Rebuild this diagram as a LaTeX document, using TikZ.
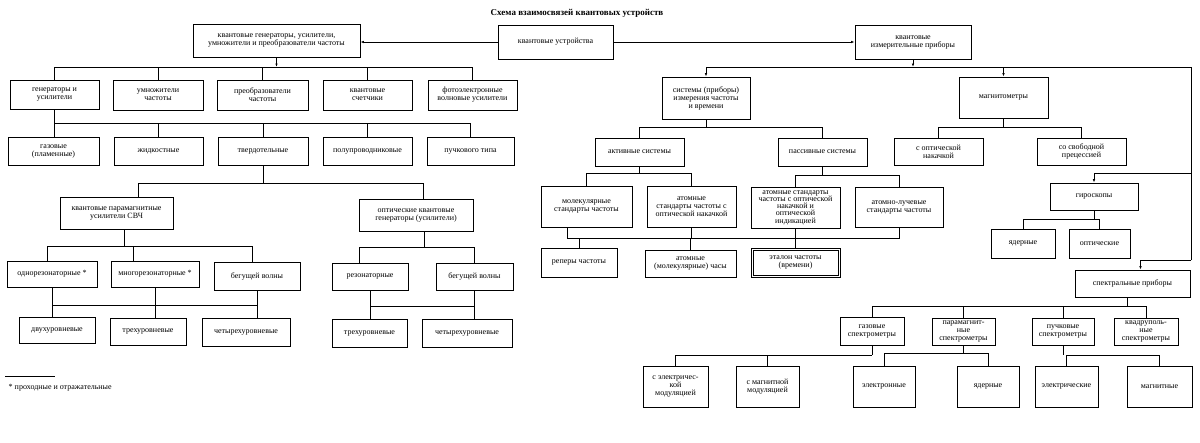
\documentclass[tikz,border=0pt]{standalone}
\usepackage{fontspec}
\setmainfont{Liberation Serif}
\usetikzlibrary{arrows.meta}
\newcommand\bx[7][]{\node[blk,#1,minimum width={(#5-#3)*1pt},minimum height={(#6-#4)*1pt}](#2)at({(#3+#5)/2},{(#4+#6)/2}){#7};}
\begin{document}
\begin{tikzpicture}[x=1pt,y=-1pt,line width=0.8pt,>={Latex[length=3.5pt,width=2.5pt]},
blk/.style={draw,align=center,inner sep=1pt,font=\fontsize{8}{8}\selectfont}]
\useasboundingbox(0,0)rectangle(1200,442);
\node[font=\fontsize{9}{10}\selectfont\bfseries](title)at(577,13){Схема взаимосвязей квантовых устройств};
\bx{qd}{498}{25}{613}{59}{квантовые устройства}
\bx{qgen}{193}{24}{360}{57}{квантовые генераторы, усилители,\\умножители и преобразователи частоты}
\bx{qmeas}{855}{25}{971}{59}{квантовые\\измерительные приборы}
\bx{gu}{10}{80}{99}{109}{генераторы и\\усилители}
\bx{mult}{113}{80}{203}{110}{умножители\\частоты}
\bx{conv}{217}{80}{308}{110}{преобразователи\\частоты}
\bx{cnt}{323}{80}{412}{110}{квантовые\\счетчики}
\bx{fe}{428}{80}{517}{110}{фотоэлектронные\\волновые усилители}
\bx{gas}{8}{137}{99}{165}{газовые\\(пламенные)}
\bx{liq}{114}{137}{203}{165}{жидкостные}
\bx{sol}{218}{137}{308}{165}{твердотельные}
\bx{semi}{323}{137}{412}{165}{полупроводниковые}
\bx{beam}{427}{137}{514}{165}{пучкового типа}
\bx{para}{60}{197}{173}{229}{квантовые парамагнитные\\усилители СВЧ}
\bx{opt}{359}{199}{473}{231}{оптические квантовые\\генераторы (усилители)}
\bx{one}{7}{261}{97}{287}{однорезонаторные *}
\bx{multi}{111}{261}{199}{287}{многорезонаторные *}
\bx{tw1}{214}{262}{300}{290}{бегущей волны}
\bx{res}{332}{263}{408}{290}{резонаторные}
\bx{tw2}{436}{263}{513}{290}{бегущей волны}
\bx{lvlA}{19}{317}{95}{343}{двухуровневые}
\bx{lvlB}{110}{318}{186}{345}{трехуровневые}
\bx{lvlC}{202}{318}{290}{346}{четырехуровневые}
\bx{lvlD}{332}{319}{407}{347}{трехуровневые}
\bx{lvlE}{422}{319}{512}{347}{четырехуровневые}
\bx{sys}{662}{77}{750}{119}{системы (приборы)\\измерения частоты\\и времени}
\bx{mag}{959}{77}{1048}{118}{магнитометры}
\bx{act}{595}{138}{684}{166}{активные системы}
\bx{pas}{778}{138}{867}{166}{пассивные системы}
\bx{optp}{894}{138}{983}{165}{с оптической\\накачкой}
\bx{frp}{1037}{138}{1126}{165}{со свободной\\прецессией}
\bx{mol}{541}{186}{632}{227}{молекулярные\\стандарты частоты}
\bx{aop}{647}{186}{736}{227}{атомные\\стандарты частоты с\\оптической накачкой}
\bx[font=\fontsize{8}{7.3}\selectfont]{aoi}{751}{187}{840}{228}{атомные стандарты\\частоты с оптической\\накачкой и\\оптической\\индикацией}
\bx{alb}{855}{187}{943}{227}{атомно-лучевые\\стандарты частоты}
\bx{rep}{541}{248}{617}{277}{реперы частоты}
\bx{clk}{645}{250}{736}{277}{атомные\\(молекулярные) часы}
\bx{etl}{751}{248}{840}{277}{эталон частоты\\(времени)}
\draw([shift={(2.5pt,-2.5pt)}]etl.north west)rectangle([shift={(-2.5pt,2.5pt)}]etl.south east);
\bx{gyr}{1050}{183}{1138}{210}{гироскопы}
\bx{nuc}{991}{229}{1055}{258}{ядерные}
\bx{opg}{1069}{229}{1130}{258}{оптические}
\bx{spec}{1075}{270}{1190}{297}{спектральные приборы}
\bx{gsp}{840}{317}{904}{345}{газовые\\спектрометры}
\bx{psp}{932}{318}{995}{345}{парамагнит-\\ные\\спектрометры}
\bx{bsp}{1032}{318}{1094}{345}{пучковые\\спектрометры}
\bx{qsp}{1114}{318}{1178}{345}{квадруполь-\\ные\\спектрометры}
\bx{em}{643}{366}{708}{407}{с электричес-\\кой\\модуляцией}
\bx{mm}{736}{366}{799}{407}{с магнитной\\модуляцией}
\bx{el}{853}{366}{915}{407}{электронные}
\bx{nu2}{957}{366}{1019}{407}{ядерные}
\bx{ele}{1035}{366}{1098}{407}{электрические}
\bx{mgn}{1127}{366}{1192}{407}{магнитные}
\draw[->](qd.west)--(qd.west-|qgen.east);
\draw[->](qd.east)--(qd.east-|qmeas.west);
\coordinate(b1)at(0,67);
\draw[->](qgen.south)--(qgen.south|-b1);
\draw(gu.north)|-(fe.north|-b1)--(fe.north);
\foreach \n in {mult,conv,cnt}\draw(\n.north)--(\n.north|-b1);
\coordinate(b2)at(0,123);
\draw(gu.south)--(gu.south|-gas.north);
\draw(gu.south|-b2)-|(beam.north);
\foreach \n in {liq,sol,semi}\draw(\n.north)--(\n.north|-b2);
\coordinate(b3)at(0,183);
\draw(sol.south)--(sol.south|-b3);
\draw([xshift=22pt]para.north)|-([xshift=7pt]opt.north|-b3)--([xshift=7pt]opt.north);
\coordinate(b4)at(0,246);
\draw([xshift=8pt]para.south)--([xshift=8pt]para.south|-b4);
\draw([xshift=-5pt]one.north)|-([xshift=-5pt]tw1.north|-b4)--([xshift=-5pt]tw1.north);
\draw([xshift=-22pt]multi.north)--([xshift=-22pt]multi.north|-b4);
\coordinate(b5)at(0,247);
\draw([xshift=8pt]opt.south)--([xshift=8pt]opt.south|-b5);
\draw([xshift=-11pt]res.north)|-(tw2.north|-b5)--(tw2.north);
\coordinate(b6)at(0,305);
\foreach \n/\m in {one/lvlA,multi/lvlB,tw1/lvlC}\draw(\n.south)--(\n.south|-\m.north);
\draw(one.south|-b6)--(tw1.south|-b6);
\coordinate(b7)at(0,306);
\foreach \n/\m in {res/lvlD,tw2/lvlE}\draw(\n.south)--(\n.south|-\m.north);
\draw(res.south|-b7)--(tw2.south|-b7);
\coordinate(rb)at(0,67);
\coordinate(rc)at(1191,67);
\coordinate(rd)at(1191,260);
\coordinate(rg)at(1191,173);
\draw[->](qmeas.south)--(qmeas.south|-rb);
\draw(sys.north|-rb)--(rc)--(rd);
\draw[->](sys.north|-rb)--(sys.north);
\draw[->](mag.north|-rb)--(mag.north);
\draw[->](rd)-|([xshift=8pt]spec.north);
\draw[->](rg)-|(gyr.north);
\coordinate(rb2)at(0,127);
\draw(sys.south)--(sys.south|-rb2);
\draw(act.north)|-(pas.north|-rb2)--(pas.north);
\draw(mag.south)--(mag.south|-rb2);
\draw(optp.north)|-(frp.north|-rb2)--(frp.north);
\coordinate(rb3)at(0,173);
\draw(act.south)--(act.south|-rb3);
\draw(mol.north)|-(aop.north|-rb3)--(aop.north);
\coordinate(rb4)at(0,175);
\draw(pas.south)--(pas.south|-rb4);
\draw(aoi.north)|-(alb.north|-rb4)--(alb.north);
\coordinate(tb)at(0,238);
\draw([xshift=-19pt]mol.south)|-(alb.south|-tb)--(alb.south);
\foreach \n in {aop,aoi}\draw(\n.south)--(\n.south|-tb);
\foreach \n in {rep,clk,etl}\draw(\n.north)--(\n.north|-tb);
\coordinate(gb)at(0,219);
\draw(gyr.south)--(gyr.south|-gb);
\draw(nuc.north)|-(opg.north|-gb)--(opg.north);
\coordinate(sb)at(0,306);
\draw([xshift=-5pt]spec.south)--([xshift=-5pt]spec.south|-sb);
\draw(gsp.north)|-(qsp.north|-sb)--(qsp.north);
\foreach \n in {psp,bsp}\draw(\n.north)--(\n.north|-sb);
\coordinate(gb2)at(0,355);
\draw(gsp.south)--(gsp.south|-gb2);
\draw(em.north)|-(gsp.south|-gb2);
\draw(mm.north)--(mm.north|-gb2);
\coordinate(pb2)at(0,353);
\draw(psp.south)--(psp.south|-pb2);
\draw(el.north)|-(nu2.north|-pb2)--(nu2.north);
\draw(bsp.south)--(bsp.south|-gb2);
\draw(ele.north)|-(mgn.north|-gb2)--(mgn.north);
\draw(5,376)--(55,376);
\node[anchor=west,font=\fontsize{8}{8}\selectfont](fn)at(5,388){* проходные и отражательные};
\end{tikzpicture}
\end{document}
